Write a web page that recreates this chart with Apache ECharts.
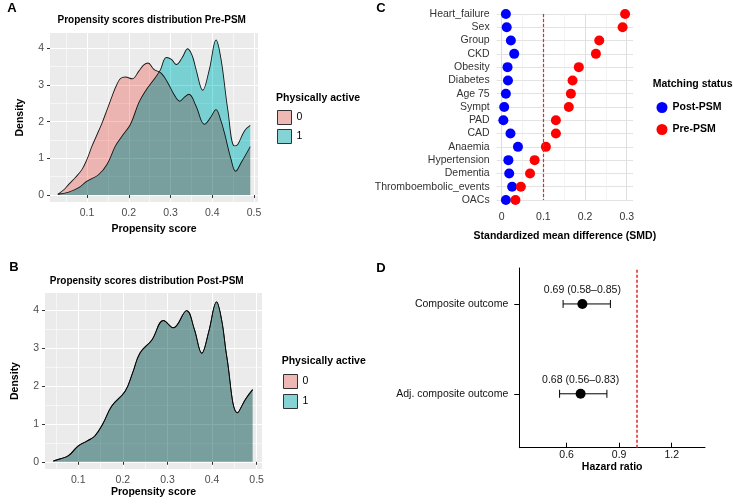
<!DOCTYPE html>
<html>
<head>
<meta charset="utf-8">
<script src="https://cdn.jsdelivr.net/npm/echarts@6/dist/echarts.min.js"></script>
<style>
html, body { margin: 0; padding: 0; background: #fff; }
#myChart { width: 733px; height: 504px; }
</style>
</head>
<body>
<div id="myChart"></div>
<script>
var FONT = '"Liberation Sans", Arial, Helvetica, sans-serif';

// A: propensity score density before matching, [score, density]
var preInactive = [[0.03,0.02],[0.045,0.15],[0.056,0.29],[0.072,0.48],[0.088,0.70],[0.1,0.98],[0.112,1.34],[0.124,1.65],
	[0.136,1.97],[0.148,2.33],[0.16,2.7],[0.17,2.98],[0.18,3.18],[0.192,3.22],[0.208,3.17],[0.224,3.38],[0.236,3.55],
	[0.246,3.6],[0.26,3.43],[0.278,3.32],[0.294,3.05],[0.308,2.75],[0.322,2.56],[0.334,2.68],[0.344,2.75],[0.361,2.43],
	[0.381,1.93],[0.395,2.1],[0.409,2.33],[0.42,2.05],[0.429,1.7],[0.445,0.97],[0.456,0.65],[0.469,0.88],[0.491,1.32]];
var preActive = [[0.03,0.02],[0.056,0.08],[0.08,0.2],[0.1,0.38],[0.128,0.56],[0.148,0.84],[0.168,1.34],[0.184,1.61],
	[0.204,1.93],[0.224,2.52],[0.24,2.84],[0.26,3.15],[0.275,3.4],[0.29,3.75],[0.302,3.7],[0.314,3.56],[0.328,3.75],
	[0.341,3.99],[0.352,3.8],[0.361,3.43],[0.377,2.86],[0.393,3.43],[0.409,4.23],[0.421,3.7],[0.437,2.34],[0.453,1.34],
	[0.461,1.38],[0.477,1.75],[0.491,1.9]];
// B: after matching both groups lie on the same curve
var postDensity = [[0.044,0.02],[0.06,0.08],[0.078,0.16],[0.1,0.42],[0.12,0.55],[0.137,0.68],[0.155,1.0],[0.175,1.47],
	[0.205,1.86],[0.222,2.35],[0.238,2.86],[0.265,3.21],[0.291,3.72],[0.313,3.53],[0.343,3.98],[0.36,3.5],[0.377,2.86],
	[0.393,3.45],[0.41,4.21],[0.422,3.7],[0.433,2.77],[0.457,1.29],[0.475,1.65],[0.491,1.9]];
var scoreTicks = [0.1, 0.2, 0.3, 0.4, 0.5];
var scoreMinor = [0.05, 0.15, 0.25, 0.35, 0.45];
var densityTicks = [0, 1, 2, 3, 4];
var densityMinor = [0.5, 1.5, 2.5, 3.5];

// C: standardized mean differences
var covariates = ['Heart_failure', 'Sex', 'Group', 'CKD', 'Obesity', 'Diabetes', 'Age 75', 'Sympt', 'PAD', 'CAD',
	'Anaemia', 'Hypertension', 'Dementia', 'Thromboembolic_events', 'OACs'];
var smdPost = [0.01, 0.012, 0.022, 0.03, 0.014, 0.015, 0.01, 0.006, 0.004, 0.021, 0.039, 0.016, 0.018, 0.025, 0.01];
var smdPre = [0.296, 0.29, 0.234, 0.226, 0.185, 0.17, 0.166, 0.161, 0.13, 0.13, 0.106, 0.079, 0.068, 0.046, 0.033];
var smdTicks = [0, 0.1, 0.2, 0.3];
var smdMinor = [0.05, 0.15, 0.25];

// D: hazard ratios
var outcomes = ['Composite outcome', 'Adj. composite outcome'];
var hr = [0.69, 0.68];
var hrLow = [0.58, 0.56];
var hrHigh = [0.85, 0.83];
var hrTicks = [0.6, 0.9, 1.2];

var myChart = echarts.init(document.getElementById('myChart'));

function densityAxes(grid, min, max, ticks, minor, name, nameGap) {
	var main = {
		type: 'value', gridIndex: grid, min: min, max: max,
		name: name, nameLocation: 'middle', nameGap: nameGap,
		nameTextStyle: { fontSize: 10.5, fontWeight: 'bold', color: '#000' },
		axisLine: { show: false },
		axisTick: { show: true, length: 3, customValues: ticks, lineStyle: { color: '#333' } },
		axisLabel: { customValues: ticks, fontSize: 10.5, color: '#4d4d4d', margin: 6 },
		splitLine: { show: true, lineStyle: { color: '#fff', width: 1.1 } }
	};
	var sub = {
		type: 'value', gridIndex: grid, min: min, max: max,
		axisLine: { show: false },
		axisTick: { show: false, customValues: minor },
		axisLabel: { show: false, customValues: minor },
		splitLine: { show: true, lineStyle: { color: '#fff', width: 0.55 } }
	};
	return [main, sub];
}

function densitySeries(name, data, xi, yi, fill) {
	return {
		name: name, type: 'line', xAxisIndex: xi, yAxisIndex: yi,
		data: data, smooth: 0.4,
		showSymbol: false, symbol: 'none', silent: true,
		blendMode: 'multiply',
		lineStyle: { color: '#1a1a1a', width: 0.9 },
		itemStyle: { color: fill },
		areaStyle: { color: fill, opacity: 1 }
	};
}

var axA_x = densityAxes(0, 0.0112, 0.5095, scoreTicks, scoreMinor, 'Propensity score', 22);
var axA_y = densityAxes(0, -0.19, 4.42, densityTicks, densityMinor, 'Density', 24);
var axB_x = densityAxes(1, 0.0253, 0.512, scoreTicks, scoreMinor, 'Propensity score', 16);
var axB_y = densityAxes(1, -0.19, 4.445, densityTicks, densityMinor, 'Density', 24);

var PINK = '#FFC3BF', TEAL = '#82E2E4';
var keyStyle = function (c) { return { color: c, borderColor: '#333', borderWidth: 1 }; };

var option = {
	backgroundColor: '#fff',
	animation: false,
	textStyle: { fontFamily: FONT },
	grid: [
		{ left: 50, top: 33, width: 208, height: 169, show: true, backgroundColor: '#ebebeb', borderWidth: 0 },
		{ left: 45, top: 293, width: 217, height: 176, show: true, backgroundColor: '#ebebeb', borderWidth: 0 },
		{ left: 496.7, top: 14, width: 136.3, height: 186 },
		{ left: 519.3, top: 268, width: 185.7, height: 179.7 }
	],
	legend: [
		{ data: [{ name: '0', itemStyle: keyStyle('#eeb8b4') }, { name: '1', itemStyle: keyStyle('#86d3d5') }],
		  left: 277, top: 110, orient: 'vertical', icon: 'rect', itemWidth: 14, itemHeight: 14, itemGap: 4,
		  padding: 0, selectedMode: false, textStyle: { fontSize: 10.5, color: '#000' } },
		{ data: [{ name: '0', itemStyle: keyStyle('#eeb8b4') }, { name: '1', itemStyle: keyStyle('#86d3d5') }],
		  left: 283, top: 374, orient: 'vertical', icon: 'rect', itemWidth: 14, itemHeight: 14, itemGap: 5,
		  padding: 0, selectedMode: false, textStyle: { fontSize: 10.5, color: '#000' } },
		{ data: [{ name: 'Post-PSM', itemStyle: { color: '#0000ff', opacity: 1 } }, { name: 'Pre-PSM', itemStyle: { color: '#ff0000', opacity: 1 } }],
		  left: 656.5, top: 102, orient: 'vertical', icon: 'circle',
		  itemWidth: 11, itemHeight: 11, itemGap: 11, padding: 0, selectedMode: false,
		  textStyle: { fontSize: 10.5, fontWeight: 'bold', color: '#000' } }
	],
	xAxis: [
		axA_x[0], axA_x[1], axB_x[0], axB_x[1],
		{
			type: 'value', gridIndex: 2, min: -0.012, max: 0.315,
			name: 'Standardized mean difference (SMD)', nameLocation: 'middle', nameGap: 31,
			nameTextStyle: { fontSize: 10.5, fontWeight: 'bold', color: '#000' },
			axisLine: { show: false },
			axisTick: { show: false, customValues: smdTicks },
			axisLabel: { customValues: smdTicks, fontSize: 10.5, color: '#333', margin: 12 },
			splitLine: { show: true, lineStyle: { color: '#dedede', width: 1 } }
		},
		{
			type: 'value', gridIndex: 2, min: -0.012, max: 0.315,
			axisLine: { show: false },
			axisTick: { show: false, customValues: smdMinor },
			axisLabel: { show: false, customValues: smdMinor },
			splitLine: { show: true, lineStyle: { color: '#ebebeb', width: 0.6 } }
		},
		{
			type: 'value', gridIndex: 3, min: 0.33, max: 1.39,
			name: 'Hazard ratio', nameLocation: 'middle', nameGap: 14,
			nameTextStyle: { fontSize: 10.5, fontWeight: 'bold', color: '#000' },
			axisLine: { show: true, lineStyle: { color: '#000', width: 1 } },
			axisTick: { show: true, inside: true, length: 5, customValues: hrTicks, lineStyle: { color: '#000' } },
			axisLabel: { customValues: hrTicks, fontSize: 10.5, color: '#111', margin: 2 },
			splitLine: { show: false }
		}
	],
	yAxis: [
		axA_y[0], axA_y[1], axB_y[0], axB_y[1],
		{
			type: 'category', gridIndex: 2, data: covariates, inverse: true, boundaryGap: false,
			axisLine: { show: false }, axisTick: { show: false },
			axisLabel: { interval: 0, fontSize: 10.5, color: '#333', margin: 7 },
			splitLine: { show: true, interval: 0, lineStyle: { color: '#e3e3e3', width: 1 } }
		},
		{
			type: 'value', gridIndex: 3, min: 0.4, max: 2.4,
			axisLine: { show: true, lineStyle: { color: '#000', width: 1 } },
			axisTick: { show: true, length: 5, customValues: [1, 2], lineStyle: { color: '#000' } },
			axisLabel: {
				customValues: [1, 2], fontSize: 10.5, color: '#111', margin: 11,
				formatter: function (v) { return outcomes[outcomes.length - Math.round(v)]; }
			},
			splitLine: { show: false }
		}
	],
	graphic: [
		{ type: 'text', style: { text: 'A', x: 12, y: 8.5, font: 'bold 13px ' + FONT, textAlign: 'center', textVerticalAlign: 'middle', fill: '#000' } },
		{ type: 'text', style: { text: 'B', x: 14, y: 267, font: 'bold 13px ' + FONT, textAlign: 'center', textVerticalAlign: 'middle', fill: '#000' } },
		{ type: 'text', style: { text: 'C', x: 381, y: 8.5, font: 'bold 13px ' + FONT, textAlign: 'center', textVerticalAlign: 'middle', fill: '#000' } },
		{ type: 'text', style: { text: 'D', x: 381, y: 268, font: 'bold 13px ' + FONT, textAlign: 'center', textVerticalAlign: 'middle', fill: '#000' } },
		{ type: 'text', style: { text: 'Propensity scores distribution Pre-PSM', x: 151.7, y: 20.7, font: 'bold 10px ' + FONT, textAlign: 'center', textVerticalAlign: 'middle', fill: '#000' } },
		{ type: 'text', style: { text: 'Propensity scores distribution Post-PSM', x: 146.7, y: 281.7, font: 'bold 10px ' + FONT, textAlign: 'center', textVerticalAlign: 'middle', fill: '#000' } },
		{ type: 'text', style: { text: 'Physically active', x: 276, y: 97.7, font: 'bold 10.5px ' + FONT, textAlign: 'left', textVerticalAlign: 'middle', fill: '#000' } },
		{ type: 'text', style: { text: 'Physically active', x: 281.7, y: 361, font: 'bold 10.5px ' + FONT, textAlign: 'left', textVerticalAlign: 'middle', fill: '#000' } },
		{ type: 'text', style: { text: 'Matching status', x: 652.7, y: 84, font: 'bold 10.5px ' + FONT, textAlign: 'left', textVerticalAlign: 'middle', fill: '#000' } }
	],
	series: [
		densitySeries('0', preInactive, 0, 0, PINK),
		densitySeries('1', preActive, 0, 0, TEAL),
		densitySeries('0', postDensity, 2, 2, PINK),
		densitySeries('1', postDensity, 2, 2, TEAL),
		{
			name: 'Post-PSM', type: 'scatter', xAxisIndex: 4, yAxisIndex: 4, symbolSize: 10,
			itemStyle: { color: '#0000ff', opacity: 1 }, silent: true,
			data: smdPost.map(function (v, i) { return [v, covariates[i]]; })
		},
		{
			name: 'Pre-PSM', type: 'scatter', xAxisIndex: 4, yAxisIndex: 4, symbolSize: 10,
			itemStyle: { color: '#ff0000', opacity: 1 }, silent: true,
			data: smdPre.map(function (v, i) { return [v, covariates[i]]; }),
			markLine: {
				silent: true, symbol: 'none', label: { show: false },
				lineStyle: { color: '#dd2a2a', type: [3, 2], width: 1.2 },
				data: [{ xAxis: 0.1 }]
			}
		},
		{
			name: 'HR', type: 'custom', xAxisIndex: 6, yAxisIndex: 5, silent: true,
			data: outcomes.map(function (o, i) { return [outcomes.length - i, hrLow[i], hr[i], hrHigh[i]]; }),
			encode: { x: [1, 2, 3], y: 0 },
			renderItem: function (params, api) {
				var y = api.value(0), lo = api.value(1), est = api.value(2), hi = api.value(3);
				var pLo = api.coord([lo, y]), pHi = api.coord([hi, y]), pEst = api.coord([est, y]);
				var ln = { stroke: '#000', lineWidth: 1 };
				var txt = est.toFixed(2) + ' (' + lo.toFixed(2) + '\u2013' + hi.toFixed(2) + ')';
				return {
					type: 'group', children: [
						{ type: 'line', shape: { x1: pLo[0], y1: pLo[1], x2: pHi[0], y2: pHi[1] }, style: ln },
						{ type: 'line', shape: { x1: pLo[0], y1: pLo[1] - 4, x2: pLo[0], y2: pLo[1] + 4 }, style: ln },
						{ type: 'line', shape: { x1: pHi[0], y1: pHi[1] - 4, x2: pHi[0], y2: pHi[1] + 4 }, style: ln },
						{ type: 'circle', shape: { cx: pEst[0], cy: pEst[1], r: 5 }, style: { fill: '#000' } },
						{ type: 'text', style: { text: txt, x: pEst[0], y: pEst[1] - 14, textAlign: 'center', textVerticalAlign: 'middle', font: '10.5px ' + FONT, fill: '#111' } }
					]
				};
			},
			markLine: {
				silent: true, symbol: 'none', label: { show: false },
				lineStyle: { color: '#dd3333', type: [3, 2], width: 1.6 },
				data: [{ xAxis: 1 }]
			}
		}
	]
};

myChart.setOption(option);
</script>
</body>
</html>
